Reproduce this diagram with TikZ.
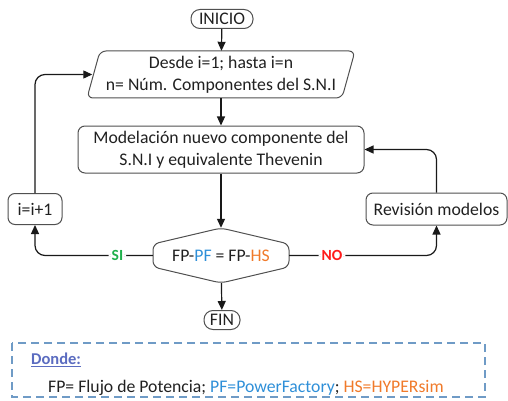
\documentclass[tikz,border=0pt]{standalone}
\usepackage{fontspec}
\setmainfont{Carlito}
\usetikzlibrary{arrows.meta}
\definecolor{pfblue}{HTML}{2E8FD8}
\definecolor{hsorange}{HTML}{F07A2A}
\definecolor{sigreen}{HTML}{1FB04C}
\definecolor{nored}{HTML}{FF1A1A}
\definecolor{dondeblue}{HTML}{5B6CC0}
\definecolor{dashblue}{HTML}{6F9BC6}
\definecolor{edgegray}{HTML}{505050}
\definecolor{txt}{HTML}{202020}
\begin{document}
\begin{tikzpicture}[x=1pt,y=-1pt,
  every node/.style={font=\fontsize{17.7}{22}\selectfont, text=txt, inner sep=0pt},
  box/.style={draw=edgegray, line width=1pt, rounded corners=7pt, align=center},
  term/.style={draw=edgegray, line width=1pt, rounded corners=9pt, minimum height=19pt},
  arr/.style={draw=black!90, line width=1.2pt, -{Triangle[length=9pt,width=8pt]}, rounded corners=10pt},
  lab/.style={fill=white, inner xsep=3pt, font=\fontsize{15.5}{18}\selectfont\bfseries},
  shp/.style={draw=edgegray, line width=1pt}
]
\useasboundingbox (0,0) rectangle (508,401);

% terminals
\node[term, minimum width=62pt] (ini) at (222,19) {INICIO};
\node[term, minimum width=36pt] (fin) at (222,320) {FIN};

% parallelogram (loop)
\node[minimum width=257pt, minimum height=47pt, align=center] (par) at (221,74.5)
  {Desde i=1; hasta i=n\\n= Núm. Componentes del S.N.I};
\draw[shp, rounded corners=6pt] (100,51) -- (355,51) -- (342,98) -- (87,98) -- cycle;

% process
\node[box, minimum width=286pt, minimum height=47pt] (mod) at (221,149.5)
  {Modelación nuevo componente del\\S.N.I y equivalente Thevenin};

% decision
\node[minimum width=136pt, minimum height=55pt] (dec) at (221,255.5)
  {FP-\textcolor{pfblue}{PF} = FP-\textcolor{hsorange}{HS}};
\draw[shp, rounded corners=6pt] (221,228) -- (153,244) -- (153,267) -- (221,283)
  -- (289,267) -- (289,244) -- cycle;

% side boxes
\node[box, minimum width=54pt, minimum height=31pt] (inc) at (35,209) {i=i+1};
\node[box, minimum width=141pt, minimum height=32pt] (rev) at (436.5,209) {Revisión modelos};

% connectors
\draw[arr] (ini) -- (par);
\draw[arr] (par) -- (mod);
\draw[arr] (mod) -- (dec);
\draw[arr] (dec) -- (fin);
\draw[arr] (dec.west) -| node[lab, pos=0.15, text=sigreen] {SI} (inc.south);
\draw[arr] (dec.east) -| node[lab, pos=0.145, text=nored] {NO} (rev.south);
\draw[arr] (inc.north) |- (par.west);
\draw[arr] (rev.north) |- (mod.east);

% legend
\draw[dashblue, line width=1.5pt, dash pattern=on 8pt off 5pt] (12,343) rectangle (485,397);
\node[anchor=west, text=dondeblue, font=\fontsize{16.5}{18}\selectfont\bfseries] (donde) at (31,360) {\underline{Donde:}};
\node[anchor=west] (leg) at (48,388)
  {FP= Flujo de Potencia; \textcolor{pfblue}{PF=PowerFactory}; \textcolor{hsorange}{HS=HYPERsim}};
\end{tikzpicture}
\end{document}
